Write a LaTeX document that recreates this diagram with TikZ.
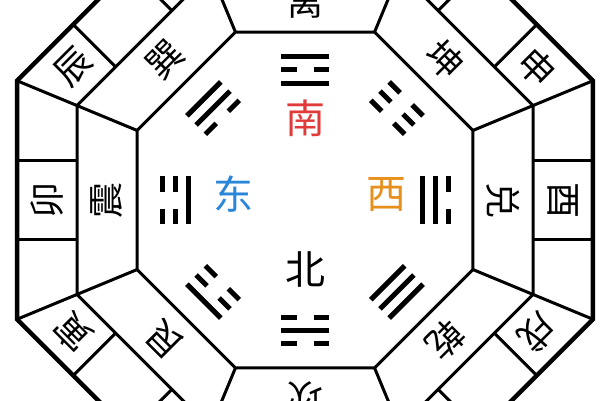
\documentclass[tikz,border=0pt]{standalone}
\usepackage{fontspec}
\newfontfamily\cjk{Noto Sans CJK SC}
\definecolor{nanred}{HTML}{E03A3A}
\definecolor{dongblue}{HTML}{2A86D8}
\definecolor{xiorange}{HTML}{E8901E}
\tikzset{
  edge/.style={line width=3pt, line join=miter},
  rim/.style={line width=4.5pt, line join=miter},
  bar/.style={line width=5pt},
  ringlab/.style={font=\cjk\fontsize{36}{36}\selectfont, inner sep=0pt},
  dirlab/.style={font=\cjk\fontsize{40}{40}\selectfont, inner sep=0pt},
}
\newcommand\myyao[2]{\ifnum#2=1 \draw[bar] (#1,-24)--(#1,24);\else\draw[bar] (#1,-24)--(#1,-8.5) (#1,8.5)--(#1,24);\fi}
\newcommand\mytrig[4]{\begin{scope}[rotate=#1]\myyao{117}{#2}\myyao{130}{#3}\myyao{143}{#4}\end{scope}}
\begin{document}
\begin{tikzpicture}[x=1pt,y=1pt]
\useasboundingbox (0,0) rectangle (600,400);
\fill[white] (0,0) rectangle (600,400);
\clip (0,0) rectangle (600,400);
\begin{scope}[shift={(305,200)}]
  % octagons
  \draw[edge] (22.5:181.84) \foreach \a in {67.5,112.5,...,337.5}{ -- (\a:181.84)} -- cycle;
  \draw[edge] (22.5:246.79) \foreach \a in {67.5,112.5,...,337.5}{ -- (\a:246.79)} -- cycle;
  \draw[rim] (22.5:311.73) \foreach \a in {67.5,112.5,...,337.5}{ -- (\a:311.73)} -- cycle;
  % radial separators
  \foreach \a in {22.5,67.5,...,337.5} \draw[edge] (\a:181.84) -- (\a:311.73);
  % cell dividers in outer ring
  \foreach \t in {0,45,...,315} \draw[edge,rotate=\t] (228,39.8) -- (288,39.8) (228,-39.8) -- (288,-39.8);
  % trigram names
  \foreach \t/\n in {90/离,45/坤,0/兑,315/乾,270/坎,225/艮,180/震,135/巽}
    \node[ringlab, rotate=\t-90] (g\t) at (\t:198) {\n};
  % earthly branches
  \path[rotate=135] (258,70) node[ringlab, rotate=45] (chen) {辰};
  \path[rotate=45] (258,-70) node[ringlab, rotate=-45] (shen) {申};
  \path[rotate=0] (258,0) node[ringlab, rotate=-90] (you) {酉};
  \path[rotate=315] (258,70) node[ringlab, rotate=225] (xu) {戌};
  \path[rotate=225] (258,-70) node[ringlab, rotate=135] (yin) {寅};
  \path[rotate=180] (258,0) node[ringlab, rotate=90] (mao) {卯};
  % trigrams (bottom line innermost)
  \mytrig{90}{1}{0}{1}
  \mytrig{45}{0}{0}{0}
  \mytrig{0}{1}{1}{0}
  \mytrig{315}{1}{1}{1}
  \mytrig{270}{0}{1}{0}
  \mytrig{225}{0}{0}{1}
  \mytrig{180}{1}{0}{0}
  \mytrig{135}{0}{1}{1}
  % directions
  \node[dirlab, text=nanred] (nan) at (0,82) {南};
  \node[dirlab, text=dongblue] (dong) at (-72,6) {东};
  \node[dirlab, text=xiorange] (xi) at (81,5) {西};
  \node[dirlab] (bei) at (0,-69) {北};
\end{scope}
\end{tikzpicture}
\end{document}
